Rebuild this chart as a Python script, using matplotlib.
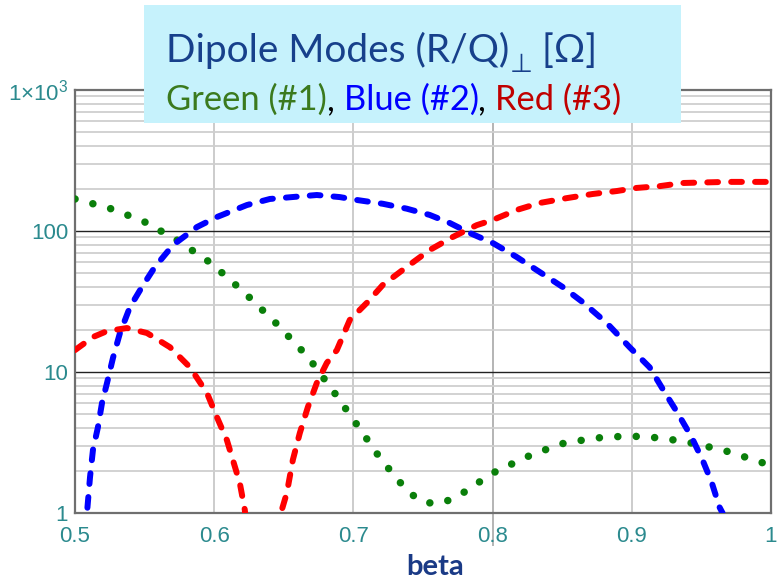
import numpy as np
import matplotlib
matplotlib.use("Agg")
import matplotlib.pyplot as plt
from matplotlib.patches import Rectangle
from matplotlib.text import Annotation
from matplotlib.ticker import FixedLocator, NullFormatter

plt.rcParams["font.family"] = ["Liberation Sans", "DejaVu Sans"]
plt.rcParams["mathtext.fontset"] = "custom"
plt.rcParams["mathtext.rm"] = "Liberation Sans"

# mode 1 (green, dotted)
beta_green = [0.500, 0.5244, 0.5488, 0.5732, 0.5976, 0.6213, 0.645, 0.6673, 0.686,
              0.7032, 0.7197, 0.7398, 0.752, 0.7642, 0.7764, 0.8001, 0.8245, 0.8489,
              0.8733, 0.8977, 0.9221, 0.9465, 0.9702, 0.9946, 1.0]
rq_green = [168.7, 145.5, 117.8, 86.3, 59.3, 36.9, 21.9, 12.8, 7.21,
            4.14, 2.41, 1.39, 1.18, 1.18, 1.34, 1.92, 2.50, 3.09,
            3.40, 3.52, 3.40, 3.09, 2.71, 2.26, 2.19]

# mode 2 (blue, dashed)
beta_blue = [0.507, 0.5086, 0.5108, 0.5129, 0.5165, 0.5194, 0.523, 0.5273, 0.5323,
             0.5395, 0.5481, 0.5574, 0.5704, 0.5876, 0.6019, 0.6235, 0.64, 0.6565,
             0.6737, 0.6902, 0.7024, 0.7211, 0.7383, 0.7548, 0.7692, 0.7836, 0.8001,
             0.8173, 0.8338, 0.8503, 0.8647, 0.8819, 0.8984, 0.9128, 0.9235, 0.9329,
             0.9429, 0.9508, 0.9573, 0.963, 0.9652, 0.967]
rq_blue = [0.5, 1.0, 1.80, 2.80, 4.07, 6.03, 8.36, 12.6, 18.9,
           28.9, 40.1, 55.6, 79.5, 106.7, 125.6, 152.8, 168.7, 174.2,
           180.0, 174.0, 166.0, 156.0, 144.0, 130.0, 114.0, 96.8, 82.2,
           65.4, 51.2, 40.1, 31.3, 22.3, 15.0, 10.8, 7.21, 5.12,
           3.46, 2.38, 1.66, 1.10, 1.0, 0.5]

# mode 3 (red, dashed) - two branches around the zero near beta ~0.635
beta_red_a = [0.5, 0.5129, 0.523, 0.5373, 0.5517, 0.5682, 0.5826, 0.5948, 0.6019,
              0.6091, 0.6134, 0.6184, 0.622, 0.625]
rq_red_a = [14.3, 17.7, 19.5, 20.5, 18.9, 15.0, 10.8, 7.10, 4.80,
            3.29, 2.38, 1.63, 1.05, 0.5]
beta_red_b = [0.645, 0.6479, 0.6522, 0.6565, 0.6615, 0.6673, 0.6737, 0.6809, 0.6881,
              0.6974, 0.7096, 0.7211, 0.7383, 0.7548, 0.7714, 0.7886, 0.8001, 0.8173,
              0.8338, 0.8532, 0.8719, 0.8891, 0.9034, 0.92, 0.9365, 0.968, 1.0]
rq_red_b = [0.5, 1.0, 1.39, 2.38, 3.69, 5.64, 8.36, 11.6, 14.3,
            23.4, 30.9, 41.4, 55.6, 73.3, 90.7, 110.0, 119.7, 141.0,
            158.0, 171.0, 183.0, 192.0, 202.0, 208.0, 219.0, 223.0, 223.0]

x_ticks = [0.5, 0.6, 0.7, 0.8, 0.9, 1.0]
x_labels = ["0.5", "0.6", "0.7", "0.8", "0.9", "1"]
y_ticks = [1, 10, 100, 1000]
y_labels = ["1", "10", "100", "1×10$^\\mathregular{3}$"]

W, H = 779, 581
fig = plt.figure(figsize=(W / 100, H / 100), dpi=100)
ax = fig.add_axes([75 / W, 1 - 513 / H, (771 - 75) / W, (513 - 90) / H])

tick_col = "#2b8a8e"
ax.set_yscale("log")
ax.set_xlim(0.5, 1.0)
ax.set_ylim(1, 1000)

ax.xaxis.set_major_locator(FixedLocator(x_ticks))
ax.set_xticklabels(x_labels)
ax.yaxis.set_major_locator(FixedLocator(y_ticks))
ax.set_yticklabels(y_labels)
ax.yaxis.set_minor_locator(FixedLocator([m * d for d in (1, 10, 100) for m in range(2, 10)]))
ax.yaxis.set_minor_formatter(NullFormatter())
ax.tick_params(which="both", length=0, labelsize=16, labelcolor=tick_col,
               labelfontfamily="Liberation Sans")
ax.tick_params(axis="x", pad=9)
ax.tick_params(axis="y", pad=5)

# grid
for xv in [0.6, 0.7, 0.9]:
    ax.axvline(xv, color="#c8c8c8", lw=1.3, zorder=1)
# the 0.8 line is a bit darker and runs past the bottom of the frame
ax.axvline(0.8, ymin=-0.075, ymax=1, color="#b4b4b4", lw=1.4, zorder=1, clip_on=False)
ax.grid(True, which="minor", axis="y", color="#cfcfcf", lw=1.3, zorder=1)
for yv in [10, 100]:
    ax.axhline(yv, color="#222222", lw=1.0, zorder=1.5)

for side in ["left", "bottom", "right", "top"]:
    ax.spines[side].set_color("#6f6f6f")
    ax.spines[side].set_linewidth(1.6)

lw = 4.3
ax.plot(beta_green, rq_green, color="#0a7f0a", lw=5.4, linestyle=(0, (0.01, 2.45)),
        dash_capstyle="round", zorder=3)
ax.plot(beta_blue, rq_blue, color="#0000ff", lw=lw, linestyle=(0, (1.8, 2.2)),
        dash_capstyle="round", zorder=3)
ax.plot(beta_red_a, rq_red_a, color="#ff0000", lw=lw, linestyle=(0, (1.8, 2.2)),
        dash_capstyle="round", zorder=3)
ax.plot(beta_red_b, rq_red_b, color="#ff0000", lw=lw, linestyle=(0, (1.8, 2.2)),
        dash_capstyle="round", zorder=3)

fig.text(435 / W, 1 - 567 / H, "beta", ha="center", va="center", fontsize=21,
         fontweight="bold", color="#1a3a86", family="Lato")

# title box
fig.add_artist(Rectangle((144 / W, 1 - 123 / H), (681 - 144) / W, (123 - 5) / H,
                         transform=fig.transFigure, facecolor="#c6f2fc",
                         edgecolor="none", zorder=5))

fam = ["Lato", "DejaVu Sans"]


def chain(prev, s, color, size, dy=0):
    a = Annotation(s, xy=(1, 0), xycoords=prev, xytext=(0, dy),
                   textcoords="offset points", ha="left", va="bottom",
                   color=color, fontsize=size, family=fam, zorder=6)
    fig.add_artist(a)
    return a


t1 = fig.text(166 / W, 1 - 69 / H, "Dipole Modes (R/Q)", ha="left", va="bottom",
              color="#17408b", fontsize=28, family=fam, zorder=6)
t2 = chain(t1, "⊥", "#17408b", 19, dy=-6)
t3 = Annotation(" [Ω]", xy=(1, 0), xycoords=t2, xytext=(0, 6),
                textcoords="offset points", ha="left", va="bottom",
                color="#17408b", fontsize=28, family=fam, zorder=6)
fig.add_artist(t3)

s1 = fig.text(166 / W, 1 - 116 / H, "Green (#1)", ha="left", va="bottom",
              color="#3b7a1e", fontsize=24.8, family=fam, zorder=6)
s2 = chain(s1, ", ", "black", 24.8)
s3 = chain(s2, "Blue (#2)", "#0000ff", 24.8)
s4 = chain(s3, ", ", "black", 24.8)
s5 = chain(s4, "Red (#3)", "#c00000", 24.8)

fig.savefig("out.png", dpi=100)
